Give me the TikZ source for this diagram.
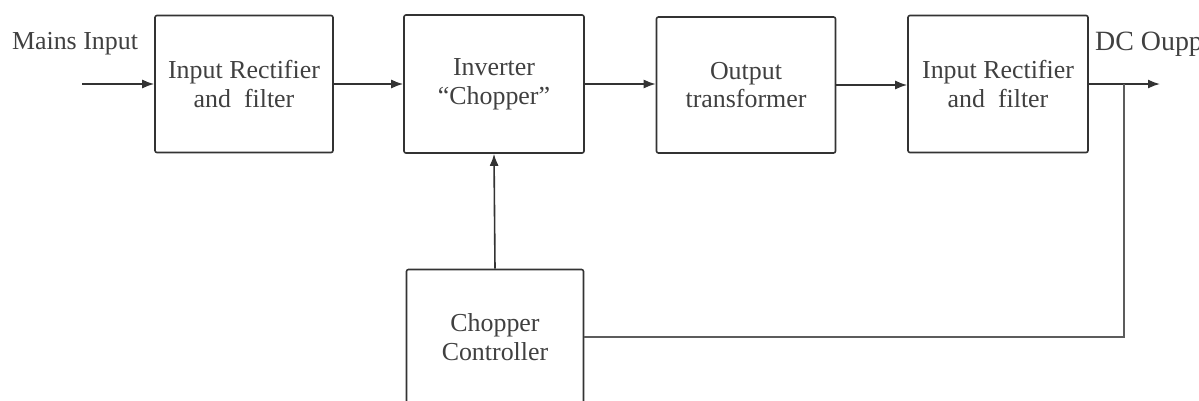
\documentclass[tikz,border=0pt]{standalone}
\usepackage{fontspec}
\setmainfont{Liberation Serif}
\usetikzlibrary{arrows.meta}
\definecolor{ink}{gray}{0.2}
\definecolor{txt}{gray}{0.25}
\tikzset{
  blockbox/.style={draw=ink, line width=1.6bp, rounded corners=2bp, fill=white,
    align=center, text=txt, font=\fontsize{26}{29}\selectfont, inner sep=0pt},
  conn/.style={draw=ink, line width=1.6bp},
  arr/.style={conn, -{Latex[length=12bp,width=9bp]}},
  lbl/.style={text=txt, font=\fontsize{26}{29}\selectfont, inner sep=0pt}
}
\begin{document}
\begin{tikzpicture}[x=1bp,y=-1bp]
\useasboundingbox (0,0) rectangle (1199,400);
\clip (0,0) rectangle (1199,400);
\fill[white] (0,0) rectangle (1199,400);
\node[blockbox, minimum width=178bp, minimum height=137bp] (b1) at (244,84) {Input Rectifier\\and~ filter};
\node[blockbox, minimum width=180bp, minimum height=138bp] (b2) at (494,84) {Inverter\\``Chopper''};
\node[blockbox, minimum width=179bp, minimum height=136bp] (b3) at (746,85) {Output\\transformer};
\node[blockbox, minimum width=180bp, minimum height=137bp] (b4) at (998,84) {Input Rectifier\\and~ filter};
\node[blockbox, minimum width=177bp, minimum height=135bp] (ctl) at (495,337) {Chopper\\Controller};
\node[lbl] (mains) at (75,44) {Mains Input};
\node[lbl, anchor=west, font=\fontsize{28}{30}\selectfont] (dc) at (1095,44) {DC Oupp};
\coordinate (min) at (82,84);
\coordinate (dcout) at (1160,84);
\coordinate (junc) at (1124,84);
\draw[arr] (min) -- (b1.west |- min);
\draw[arr] (b1.east) -- (b2.west);
\draw[arr] (b2.east) -- (b2.east -| b3.west);
\draw[arr] (b3.east -| b3.east) -- (b3.east -| b4.west);
\draw[arr] (b4.east) -- (dcout);
\draw[arr] (ctl.north) -- (b2.south);
\draw[conn, draw=ink!80] (ctl.east) -- (ctl.east -| junc) -- (junc);
\end{tikzpicture}
\end{document}
